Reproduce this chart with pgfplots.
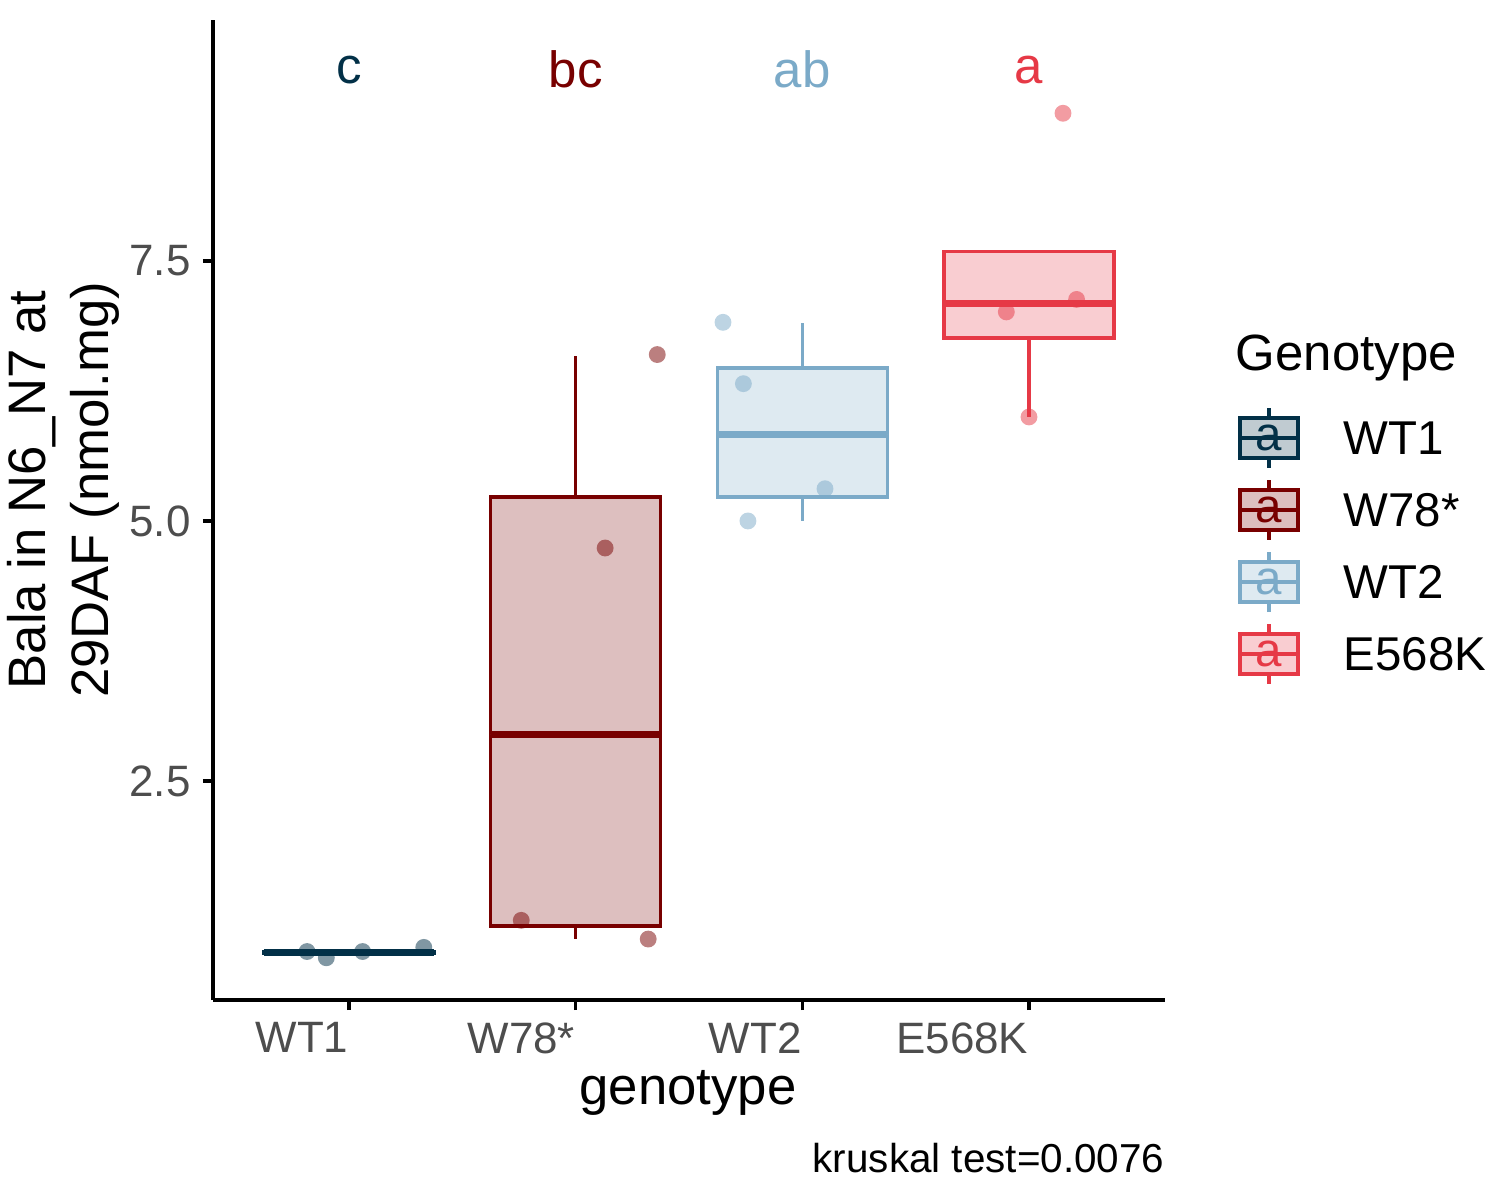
\documentclass[border=0pt]{standalone}
\usepackage{pgfplots}
\pgfplotsset{compat=1.18}
\usepgfplotslibrary{statistics}
\usepackage{fontspec}
\setmainfont{Liberation Sans}
\definecolor{cA}{RGB}{2,48,71}
\definecolor{cB}{RGB}{120,0,0}
\definecolor{cC}{RGB}{123,170,200}
\definecolor{cD}{RGB}{230,57,70}
\definecolor{tk}{RGB}{77,77,77}
\begin{document}
\begin{tikzpicture}
\useasboundingbox (-2.13,-2.0) rectangle (12.87,10.0);
\begin{axis}[at={(0,0)},anchor=south west,scale only axis,width=9.52cm,height=9.8cm,
 xmin=0.4,xmax=4.6,ymin=0.394,ymax=9.817,
 axis lines=left, axis line style={-,line width=1pt},
 xtick={1,2,3,4}, xticklabels={WT1,W78*,WT2,E568K},
 ytick={2.5,5,7.5}, yticklabels={2.5,5.0,7.5},
 tick align=outside, major tick length=0.1cm, tick style={line width=1pt,black},
 xticklabel style={anchor=north east,font=\fontsize{12.5}{14}\selectfont,text=tk,inner xsep=0pt},
 yticklabel style={font=\fontsize{12.5}{14}\selectfont,text=tk},
 /pgf/number format/assume math mode=true,
 boxplot/draw direction=y,
 boxplot/whisker extend=0, boxplot/box extend=0.75,
 boxplot/every median/.style={line width=2pt},
 clip=false]
\addplot[draw=cA,fill=cA!25,line width=1pt,boxplot prepared={median=0.85,upper quartile=0.86,lower quartile=0.84,upper whisker=0.86,lower whisker=0.84,draw position=1}] coordinates {};
\addplot[draw=cB,fill=cB!25,line width=1pt,boxplot prepared={median=2.95,upper quartile=5.23,lower quartile=1.106,upper whisker=6.59,lower whisker=0.98,draw position=2}] coordinates {};
\addplot[draw=cC,fill=cC!25,line width=1pt,boxplot prepared={median=5.83,upper quartile=6.47,lower quartile=5.23,upper whisker=6.90,lower whisker=5.0,draw position=3}] coordinates {};
\addplot[draw=cD,fill=cD!25,line width=1pt,boxplot prepared={median=7.09,upper quartile=7.59,lower quartile=6.76,upper whisker=7.59,lower whisker=6.0,draw position=4}] coordinates {};
\addplot[only marks,mark=*,mark size=2.4pt,cA,opacity=0.5,draw opacity=0] coordinates {(0.815,0.86)(0.90,0.80)(1.06,0.86)(1.33,0.90)};
\addplot[only marks,mark=*,mark size=2.4pt,cB,opacity=0.5,draw opacity=0] coordinates {(1.76,1.16)(2.13,4.74)(2.36,6.6)(2.32,0.98)};
\addplot[only marks,mark=*,mark size=2.4pt,cC,opacity=0.5,draw opacity=0] coordinates {(2.65,6.91)(2.74,6.32)(2.76,5.0)(3.10,5.31)};
\addplot[only marks,mark=*,mark size=2.4pt,cD,opacity=0.5,draw opacity=0] coordinates {(3.90,7.01)(4.21,7.13)(4.0,6.0)(4.15,8.92)};
\node[cA,font=\fontsize{14.5}{16}\selectfont] at (axis cs:1,9.34) {c};
\node[cB,font=\fontsize{14.5}{16}\selectfont] at (axis cs:2,9.34) {bc};
\node[cC,font=\fontsize{14.5}{16}\selectfont] at (axis cs:3,9.34) {ab};
\node[cD,font=\fontsize{14.5}{16}\selectfont] at (axis cs:4,9.34) {a};
\end{axis}
\node[font=\fontsize{15}{16}\selectfont] at (4.75,-0.93) {genotype};
\node[rotate=90,align=center,font=\fontsize{15}{18}\selectfont] at (-1.5,5.1) {Bala in N6\_N7 at\\29DAF (nmol.mg)};
\node[anchor=east,inner sep=0pt,font=\fontsize{11.5}{13}\selectfont] at (9.52,-1.58) {kruskal test=0.0076};
\node[anchor=west,inner sep=0pt,font=\fontsize{14.5}{16}\selectfont] at (10.22,6.42) {Genotype};
\foreach \c/\n/\y in {cA/WT1/5.62,cB/W78*/4.90,cC/WT2/4.18,cD/E568K/3.46}{
 \draw[\c,line width=1pt] (10.56,\y-0.3)--(10.56,\y+0.3);
 \draw[\c,fill=\c!25,line width=1pt] (10.27,\y-0.2) rectangle (10.85,\y+0.2);
 \draw[\c,line width=1pt] (10.27,\y)--(10.85,\y);
 \node[\c,font=\fontsize{13.5}{15}\selectfont] at (10.56,\y) {a};
 \node[anchor=west,inner sep=0pt,font=\fontsize{13.5}{15}\selectfont] at (11.3,\y) {\n};
}
\end{tikzpicture}
\end{document}
